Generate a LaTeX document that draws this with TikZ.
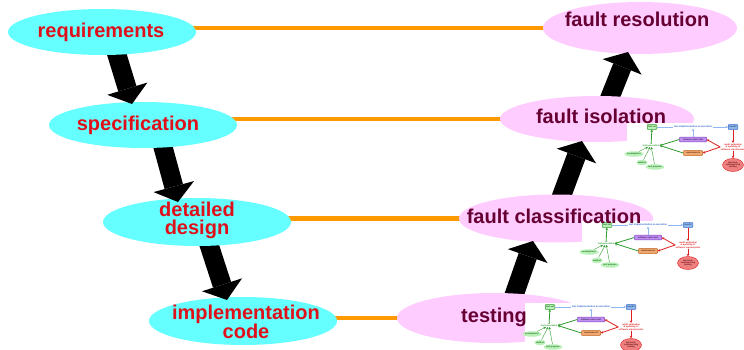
\documentclass[tikz,border=0pt]{standalone}
\usepackage{fontspec}
\setmainfont{Liberation Sans}
\usetikzlibrary{shapes.geometric,arrows.meta,calc,backgrounds}
\definecolor{cyanF}{HTML}{66FFFF}
\definecolor{pinkF}{HTML}{FFCCFF}
\definecolor{lineO}{HTML}{FF9900}
\definecolor{redT}{HTML}{E0101A}
\definecolor{maroonT}{HTML}{660033}
\definecolor{tgreenD}{HTML}{2E9A2E}
\definecolor{tgreenL}{HTML}{B8F0B8}
\definecolor{tblueD}{HTML}{3366CC}
\definecolor{tblueL}{HTML}{8FB8E8}
\definecolor{tblueA}{HTML}{8DB8F0}
\definecolor{tpurpD}{HTML}{8040C0}
\definecolor{tpurpL}{HTML}{C090F0}
\definecolor{torD}{HTML}{C05A11}
\definecolor{torL}{HTML}{F0A870}
\definecolor{tredD}{HTML}{E02020}
\definecolor{tredL}{HTML}{F08080}
\begin{document}
\begin{tikzpicture}[x=1pt,y=-1pt,
  cyanell/.style={ellipse, fill=cyanF, minimum width=188pt, minimum height=46pt, inner sep=0pt},
  pinkell/.style={ellipse, fill=pinkF, minimum width=194pt, minimum height=48pt, inner sep=0pt},
  bigtxt/.style={font=\bfseries\fontsize{20}{18}\selectfont, inner sep=0pt, align=center},
  redtxt/.style={bigtxt, text=redT},
  martxt/.style={bigtxt, text=maroonT},
  oline/.style={draw=lineO, line width=4.5pt},
  bigarrow/.style={draw=black, line width=19pt, -{Triangle[length=16pt,width=42pt,line width=0pt]}},
  tbox/.style={draw, rectangle, rounded corners=0.6pt, line width=0.5pt, inner sep=0.4pt, minimum height=4.6pt, font=\bfseries\fontsize{2.2}{2.4}\selectfont},
  ttext/.style={inner sep=0.3pt, font=\bfseries\fontsize{2.3}{2.5}\selectfont},
  tell/.style={ellipse, inner sep=0pt, line width=0.4pt, font=\bfseries\fontsize{2.2}{2.4}\selectfont},
  tarr/.style={line width=0.8pt, -{Stealth[length=2.4pt,width=2.6pt]}},
  mini/.pic={
    \fill[white] (0,0) rectangle (119,50);
    \node[tbox, draw=tgreenD, fill=tgreenL, text=tgreenD!60!black, minimum width=9.5pt] (-ts) at (25,4) {test set};
    \node[ttext, text=tblueD, font=\bfseries\fontsize{2.5}{2.7}\selectfont] (-tie) at (66,4) {test implementation \& execution};
    \node[tbox, draw=tblueD, fill=tblueL, text=tblueD!60!black, minimum width=9.5pt] (-res) at (106,4) {results};
    \node[tbox, draw=tpurpD, fill=tpurpL, text=tpurpD!50!black, minimum width=27pt] (-sut) at (66,16.5) {software under test};
    \node[ttext, text=tgreenD] (-tg) at (24,22.5) {test generation};
    \node[tbox, draw=torD, fill=torL, text=torD!50!black, minimum width=19pt] (-rq) at (66,30) {requirements};
    \node[ttext, text=tredD, align=center] (-rev) at (106,24) {result evaluation\\\& updating of\\software requirements};
    \node[tell, draw=tredD, fill=tredL, text=tredD!40!black, align=center, minimum width=21pt, minimum height=13pt] (-dec) at (106,42) {decision:\\continue/stop\\testing};
    \node[tell, fill=tgreenL, text=tgreenD!70!black, minimum width=13pt, minimum height=5.5pt] (-as) at (7,31) {assumptions};
    \node[tell, fill=tgreenL, text=tgreenD!70!black, minimum width=10pt, minimum height=5.5pt] (-me) at (15,39.5) {method};
    \node[tell, fill=tgreenL, text=tgreenD!70!black, minimum width=13pt, minimum height=5.5pt] (-tp) at (28,44) {test purpose};
    \draw[tblueA, line width=0.7pt] (-ts) -- (-tie);
    \draw[tarr, tblueA, line width=0.7pt] (-tie) -- (-res);
    \draw[tarr, tblueA, line width=0.7pt] (-sut) -- (-sut |- -tie.south);
    \draw[tarr, tgreenD] (-tg) -- (-ts);
    \draw[tarr, tgreenD] (-sut.west) -- (-tg.east);
    \draw[tarr, tgreenD] (-rq.west) -- (-tg.east);
    \draw[tarr, tredD] (-res) -- (-rev);
    \draw[tarr, tredD] (-rev.west) -- (-sut.east);
    \draw[tarr, tredD] (-rev.west) -- (-rq.east);
    \draw[tarr, tredD] (-rev) -- (-dec);
    \draw[tarr, tgreenD, line width=0.4pt] (-as) -- (-tg);
    \draw[tarr, tgreenD, line width=0.4pt] (-me) -- (-tg);
    \draw[tarr, tgreenD, line width=0.4pt] (-tp) -- (-tg);
  }]
\useasboundingbox (0,0) rectangle (744,350);
% arrow start points
\coordinate (s1) at (110,32);
\coordinate (s2) at (157,125);
\coordinate (s3) at (202,223);
\coordinate (s4) at (506,318);
\coordinate (s5) at (553,219);
\coordinate (s6) at (601,120);
% arrow tips
\coordinate (e1) at (132,104);
\coordinate (e2) at (178,202);
\coordinate (e3) at (227,300);
\coordinate (e4) at (533,241);
\coordinate (e5) at (582,141);
\coordinate (e6) at (628,52);
% left column (target drawn before arrow, source after)
\node[cyanell, minimum height=48pt] (impl) at (243,321) {};
\draw[bigarrow] (s3) -- (e3);
\node[cyanell, minimum height=48pt] (des) at (197,222) {};
\draw[bigarrow] (s2) -- (e2);
\node[cyanell] (spec) at (143,125) {};
\draw[bigarrow] (s1) -- (e1);
\node[cyanell] (req) at (102,32) {};
% right column
\node[pinkell, minimum height=52pt] (fres) at (640,28) {};
\draw[bigarrow] (s6) -- (e6);
\node[pinkell, minimum height=46pt] (fiso) at (597,119) {};
\draw[bigarrow] (s5) -- (e5);
\node[pinkell] (fcla) at (556,218.5) {};
\draw[bigarrow] (s4) -- (e4);
\node[pinkell, minimum height=50pt] (test) at (494,318) {};
% orange connecting lines (behind the ellipses)
\begin{scope}[on background layer]
\draw[oline] (fres.center -| req.center) -- (fres.center);
\draw[oline] (fiso.center -| spec.center) -- (fiso.center);
\draw[oline] (fcla.center -| des.center) -- (fcla.center);
\draw[oline] (test.center -| impl.center) -- (test.center);
\end{scope}
% thumbnails
\pic (tA) at (627,123) {mini};
\pic (tB) at (582,221) {mini};
\pic (tC) at (525,303) {mini};
% texts
\node[redtxt] (req-t) at (101,32) {requirements};
\node[redtxt] (spec-t) at (138,125) {specification};
\node[redtxt] (des-t) at (197,220.5) {detailed\\design};
\node[redtxt, font=\bfseries\fontsize{20}{19}\selectfont] (impl-t) at (246,322) {implementation\\code};
\node[martxt] (fres-t) at (637,19) {fault resolution};
\node[martxt] (fiso-t) at (601,116) {fault isolation};
\node[martxt] (fcla-t) at (554,216) {fault classification};
\node[martxt] (test-t) at (494,317) {testing};
\end{tikzpicture}
\end{document}
